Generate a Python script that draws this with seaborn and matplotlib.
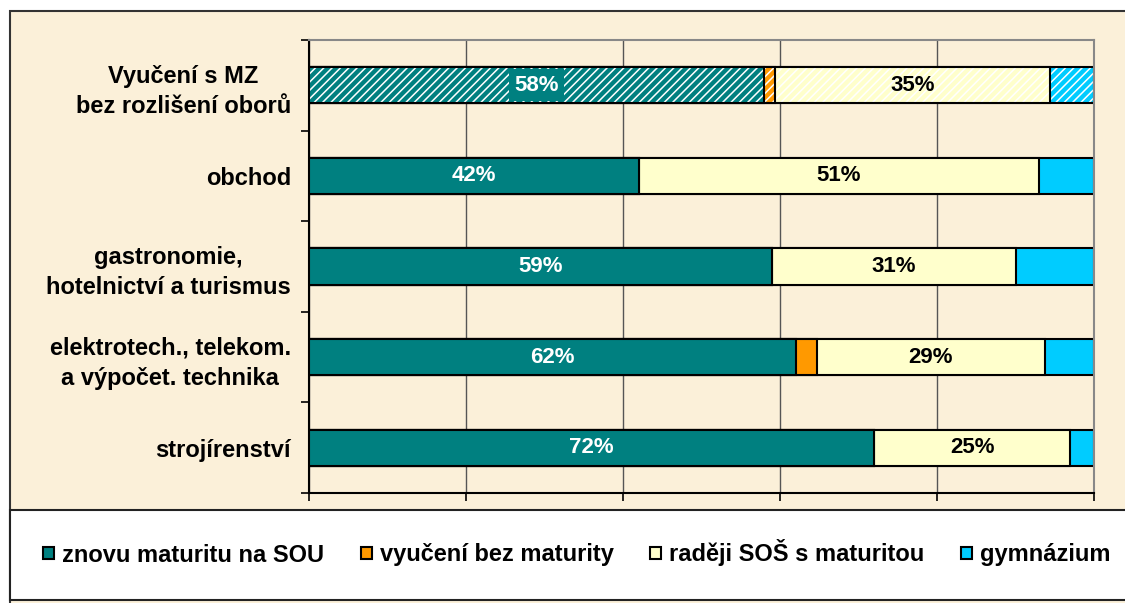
import matplotlib
matplotlib.use('Agg')
import matplotlib.pyplot as plt
import seaborn as sns
import numpy as np
import pandas as pd
from matplotlib.patches import Rectangle, Patch

# ---------------- data ----------------
categories = ["Vyučení s MZ\nbez rozlišení oborů",
              "obchod",
              "gastronomie,\nhotelnictví a turismus",
              "elektrotech., telekom.\na výpočet. technika",
              "strojírenství"]
series_names = ["znovu maturitu na SOU", "vyučení bez maturity",
                "raději SOŠ s maturitou", "gymnázium"]
znovu = [58, 42, 59, 62, 72]
vyuceni = [1.4, 0, 0, 2.7, 0]
radeji = [35, 51, 31, 29, 25]
gymnazium = [5.6, 7, 10, 6.3, 3]
labels_znovu = ["58%", "42%", "59%", "62%", "72%"]
labels_radeji = ["35%", "51%", "31%", "29%", "25%"]
hatched_rows = [0]
colors = ["#008080", "#FF9900", "#FFFFCC", "#00CCFF"]
xticks = [0, 20, 40, 60, 80, 100]

# ---------------- style ----------------
sns.set_theme(style="white")
plt.rcParams['font.family'] = ['Liberation Sans', 'DejaVu Sans']
plt.rcParams['font.weight'] = 'bold'
plt.rcParams['hatch.linewidth'] = 1.1
for k in ['text.color', 'axes.labelcolor', 'xtick.color', 'ytick.color']:
    plt.rcParams[k] = 'black'

PARCH = "#FBF0D9"
W, H = 1125, 603
fig = plt.figure(figsize=(W / 100, H / 100), dpi=100, facecolor="white")

# chart area background and legend box
fig.patches.append(Rectangle((10 / W, -0.01), 1.1, 1 - 11 / H + 0.01,
                             transform=fig.transFigure, facecolor=PARCH,
                             edgecolor="#333333", lw=1.5, zorder=-2))
fig.patches.append(Rectangle((10 / W, 1 - 600 / H), 1.1, 90 / H,
                             transform=fig.transFigure, facecolor="white",
                             edgecolor="#222222", lw=1.5, zorder=-1))

ax = fig.add_axes([309 / W, 1 - 493 / H, 785 / W, 453 / H])
ax.set_facecolor(PARCH)

series = [znovu, vyuceni, radeji, gymnazium]
cum = np.cumsum(np.array(series, dtype=float), axis=0)
starts = cum - np.array(series, dtype=float)
df = pd.DataFrame({"category": categories})
for i in range(4):
    df[f"cum{i}"] = cum[i]

# draw stacked bars from the outermost cumulative layer inward
for i in [3, 2, 1, 0]:
    n_before = len(ax.patches)
    sns.barplot(data=df, x=f"cum{i}", y="category", order=categories,
                orient="h", color=colors[i], saturation=1, width=0.4,
                edgecolor="black", linewidth=1.5, ax=ax, zorder=2 + (3 - i))
    new = ax.patches[n_before:]
    for r in hatched_rows:
        p = new[r]
        p.set_facecolor(colors[i])
        p.set_hatch("////")
        p.set_edgecolor("white")
        p.set_linewidth(0)
        ax.add_patch(Rectangle(p.get_xy(), p.get_width(), p.get_height(),
                               fill=False, edgecolor="black", lw=1.5,
                               zorder=p.get_zorder() + 0.5))

# labels
for r in range(len(categories)):
    bb = None
    if r in hatched_rows:
        bb = dict(facecolor=colors[0], edgecolor="none", pad=4)
    ax.text(starts[0][r] + znovu[r] / 2, r, labels_znovu[r], color="white",
            ha="center", va="center", fontsize=16, fontweight="bold",
            zorder=20, bbox=bb)
    ax.text(starts[2][r] + radeji[r] / 2, r, labels_radeji[r], color="black",
            ha="center", va="center", fontsize=16, fontweight="bold",
            zorder=20)

# axes formatting
ax.set_xlim(0, 100)
ax.set_ylim(len(categories) - 0.5, -0.5)
ax.set_xticks(xticks)
ax.set_xticklabels([])
ax.tick_params(axis="x", which="major", bottom=True, length=6, width=1.2,
               direction="out", color="black")
ax.set_yticks(range(len(categories)))
ax.set_yticklabels(categories, fontsize=17, fontweight="bold")
for lab in ax.get_yticklabels():
    lab.set_multialignment("center")
    lab.set_linespacing(1.4)
ax.set_yticks(np.arange(-0.5, len(categories), 1), minor=True)
ax.tick_params(axis="y", which="major", length=0, pad=13)
ax.tick_params(axis="y", which="minor", left=True, length=6, width=1.2,
               direction="out", color="black")
ax.set_xlabel("")
ax.set_ylabel("")
ax.xaxis.grid(True, color="#555555", lw=1)
ax.yaxis.grid(False)
ax.set_axisbelow(True)
for s in ["top", "right"]:
    ax.spines[s].set_color("#888888")
    ax.spines[s].set_linewidth(1.5)
for s in ["left", "bottom"]:
    ax.spines[s].set_color("black")
    ax.spines[s].set_linewidth(1.5)
for s in ax.spines.values():
    s.set_visible(True)

# legend
handles = [Patch(facecolor=c, edgecolor="black", lw=1.5) for c in colors]
fig.legend(handles, series_names, loc="center", ncol=4, frameon=False,
           bbox_to_anchor=(577 / W, 1 - 553 / H),
           prop=dict(family="Liberation Sans", weight="bold", size=17),
           handlelength=0.45, handleheight=0.45, handletextpad=0.35,
           columnspacing=1.55)

fig.savefig("out.png", dpi=100, facecolor="white")
